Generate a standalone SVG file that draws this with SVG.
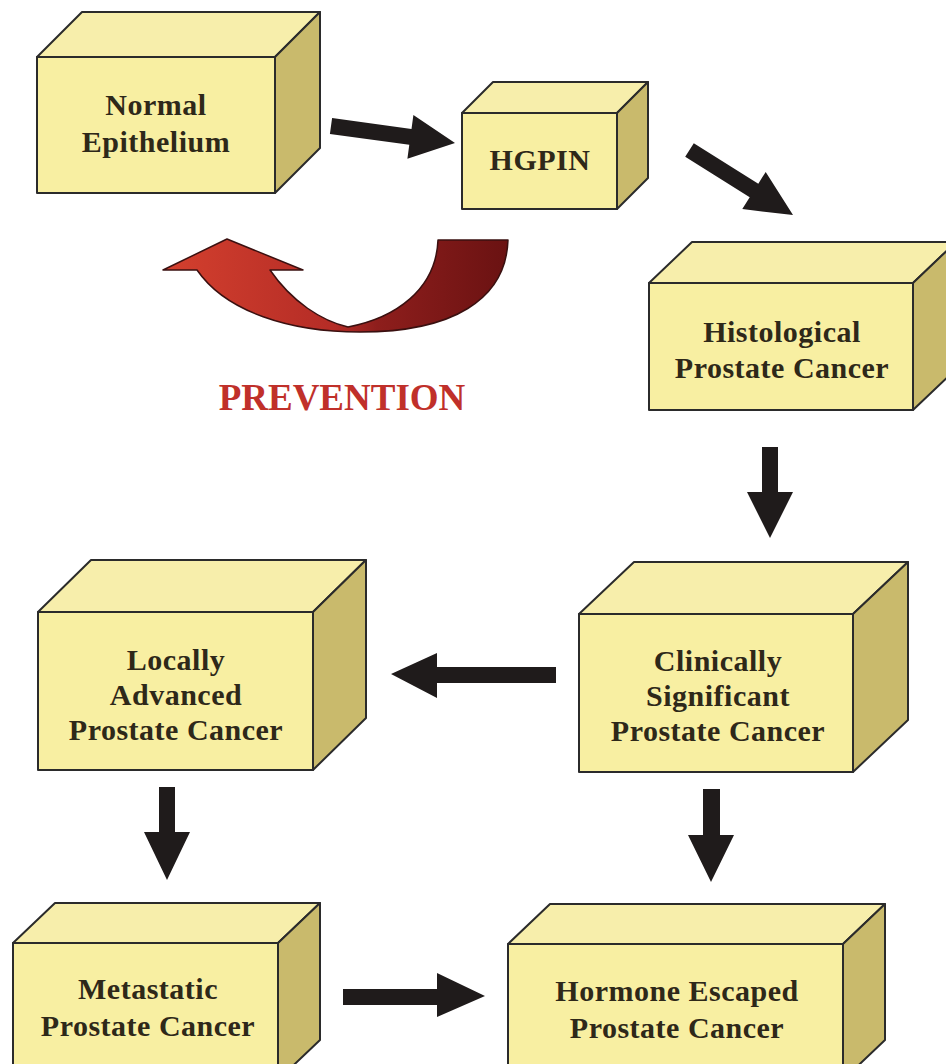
<svg xmlns="http://www.w3.org/2000/svg" width="946" height="1064" viewBox="0 0 946 1064">
<defs>
<style>
.front{fill:#f8efa2;stroke:#2b2b2b;stroke-width:2;stroke-linejoin:round}
.top{fill:#f7eeab;stroke:#2b2b2b;stroke-width:2;stroke-linejoin:round}
.side{fill:#c9ba6c;stroke:#2b2b2b;stroke-width:2;stroke-linejoin:round}
.lbl{font-family:"Liberation Serif","Times New Roman",serif;font-weight:bold;font-size:30px;letter-spacing:0.5px;fill:#2e2819;text-anchor:middle}
.arr{fill:#1f1b1b;stroke:none}
</style>
<linearGradient id="prevGrad" x1="163" y1="0" x2="508" y2="0" gradientUnits="userSpaceOnUse">
<stop offset="0" stop-color="#d4402e"/>
<stop offset="0.5" stop-color="#b42c26"/>
<stop offset="0.62" stop-color="#8e1e1c"/>
<stop offset="1" stop-color="#6a1212"/>
</linearGradient>
</defs>
<rect width="946" height="1064" fill="#ffffff"/>

<g id="node-normal">
<polygon class="top" points="37,57 82,12 320,12 275,57"/>
<polygon class="side" points="275,57 320,12 320,148 275,193"/>
<rect class="front" x="37" y="57" width="238" height="136"/>
<text class="lbl" x="156" y="115">Normal</text>
<text class="lbl" x="156" y="152">Epithelium</text>
</g>

<g id="node-hgpin">
<polygon class="top" points="462,113 493,82 648,82 617,113"/>
<polygon class="side" points="617,113 648,82 648,178 617,209"/>
<rect class="front" x="462" y="113" width="155" height="96"/>
<text class="lbl" x="540" y="170">HGPIN</text>
</g>

<g id="node-histological">
<polygon class="top" points="649,283 692,242 956,242 913,283"/>
<polygon class="side" points="913,283 956,242 956,369 913,410"/>
<rect class="front" x="649" y="283" width="264" height="127"/>
<text class="lbl" x="782" y="342">Histological</text>
<text class="lbl" x="782" y="378">Prostate Cancer</text>
</g>

<g id="node-clinically">
<polygon class="top" points="579,614 634,562 908,562 853,614"/>
<polygon class="side" points="853,614 908,562 908,720 853,772"/>
<rect class="front" x="579" y="614" width="274" height="158"/>
<text class="lbl" x="718" y="671">Clinically</text>
<text class="lbl" x="718" y="706">Significant</text>
<text class="lbl" x="718" y="741">Prostate Cancer</text>
</g>

<g id="node-locally">
<polygon class="top" points="38,612 91,560 366,560 313,612"/>
<polygon class="side" points="313,612 366,560 366,718 313,770"/>
<rect class="front" x="38" y="612" width="275" height="158"/>
<text class="lbl" x="176" y="670">Locally</text>
<text class="lbl" x="176" y="705">Advanced</text>
<text class="lbl" x="176" y="740">Prostate Cancer</text>
</g>

<g id="node-metastatic">
<polygon class="top" points="13,943 55,903 320,903 278,943"/>
<polygon class="side" points="278,943 320,903 320,1040 278,1080"/>
<rect class="front" x="13" y="943" width="265" height="137"/>
<text class="lbl" x="148" y="999">Metastatic</text>
<text class="lbl" x="148" y="1036">Prostate Cancer</text>
</g>

<g id="node-hormone">
<polygon class="top" points="508,944 550,904 885,904 843,944"/>
<polygon class="side" points="843,944 885,904 885,1040 843,1080"/>
<rect class="front" x="508" y="944" width="335" height="136"/>
<text class="lbl" x="677" y="1001">Hormone Escaped</text>
<text class="lbl" x="677" y="1038">Prostate Cancer</text>
</g>

<g id="connectors">
<polygon class="arr" points="332.1,118.1 411.5,129 413.4,115.1 455,143 407.4,158.7 409.3,144.8 329.9,133.9"/>
<polygon class="arr" points="693.8,143.2 758.3,183.7 765.7,171.9 793,215 742.3,209.1 749.7,197.3 685.2,156.8"/>
<polygon class="arr" points="762,447 778,447 778,492 793,492 770,538 747,492 762,492"/>
<polygon class="arr" points="556,667 556,683 437,683 437,698 391,674 437,653 437,667"/>
<polygon class="arr" points="159,787 175,787 175,832 190,832 167,880 144,832 159,832"/>
<polygon class="arr" points="703,789 720,789 720,835 734,835 711,882 688,835 703,835"/>
<polygon class="arr" points="343,989 437,989 437,973 485,996 437,1017 437,1005 343,1005"/>
</g>

<g id="prevention">
<path d="M 438,240 L 508,240 C 506,300 452,332 360,332 C 290,332 226,312 197,270 L 163,270 L 227,239 L 303,270 L 270,270 C 292,302 322,321 348,327 C 395,318 436,290 438,240 Z" fill="url(#prevGrad)" stroke="#3a1010" stroke-width="1.5" stroke-linejoin="round"/>
<text x="342" y="410" font-family="'Liberation Serif','Times New Roman',serif" font-weight="bold" font-size="37" fill="#c0302a" text-anchor="middle">PREVENTION</text>
</g>
</svg>
